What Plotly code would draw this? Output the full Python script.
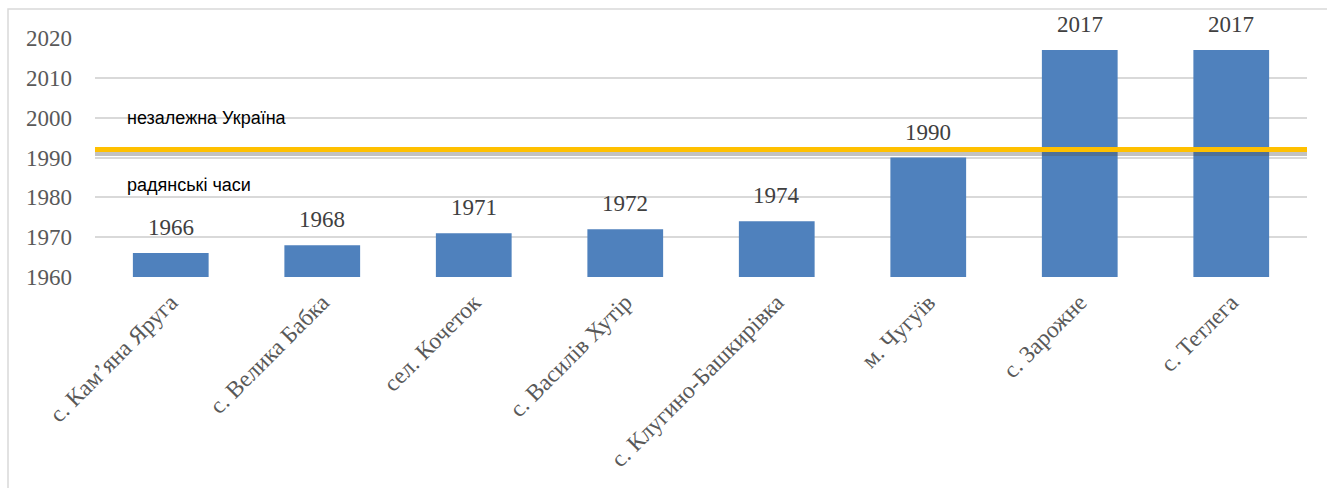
import plotly.graph_objects as go

settlements = ["с. Кам’яна Яруга", "с. Велика Бабка", "сел. Кочеток", "с. Василів Хутір",
               "с. Клугино-Башкирівка", "м. Чугуїв", "с. Зарожне", "с. Тетлега"]
years = [1966, 1968, 1971, 1972, 1974, 1990, 2017, 2017]
y_ticks = [1960, 1970, 1980, 1990, 2000, 2010, 2020]
independence_year = 1992
upper_note = "незалежна Україна"
lower_note = "радянські часи"

W, H = 1327, 488
L, R, T, B = 95, 20, 38, 211
SERIF = "Liberation Serif, Times New Roman, serif"

fig = go.Figure()
fig.add_trace(go.Bar(
    x=settlements, y=[v - 1960 for v in years], base=1960,
    marker=dict(color="#4F81BD", line=dict(width=0)),
    width=0.5, hoverinfo="skip",
))

# value labels above the bars
for name, v in zip(settlements, years):
    fig.add_annotation(x=name, y=v, text=str(v), showarrow=False, xref="x", yref="y",
                       yanchor="bottom", yshift=11,
                       font=dict(family=SERIF, size=23, color="#404040"))

# shadow under the independence line
fig.add_shape(type="line", xref="paper", yref="y", x0=0, x1=1,
              y0=independence_year - 1.0, y1=independence_year - 1.0,
              line=dict(color="rgba(80,80,80,0.35)", width=5), layer="above")
fig.add_shape(type="line", xref="paper", yref="y", x0=0, x1=1,
              y0=independence_year, y1=independence_year,
              line=dict(color="#FFC000", width=5), layer="above")

# chart frame
fig.add_shape(type="rect", xref="paper", yref="paper",
              x0=(8 - L) / (W - L - R), x1=1.05,
              y0=-1.0, y1=(H - B - 9) / (H - T - B),
              line=dict(color="#D9D9D9", width=1.5), layer="below")

for txt, yv in [(upper_note, 1999.9), (lower_note, 1983.1)]:
    fig.add_annotation(text=txt, xref="paper", yref="y", x=(125 - L) / (W - L - R), y=yv,
                       xanchor="left", yanchor="middle", showarrow=False,
                       font=dict(family="Liberation Sans, Arial, sans-serif", size=18, color="#000000"))

fig.update_layout(
    width=W, height=H, margin=dict(l=L, r=R, t=T, b=B),
    paper_bgcolor="white", plot_bgcolor="white", showlegend=False,
)
fig.update_xaxes(tickangle=-45, showgrid=False, showline=False, ticks="",
                 ticklabelstandoff=6,
                 tickfont=dict(family=SERIF, size=23.5, color="#595959"))
fig.update_yaxes(range=[1960, 2020], tickvals=y_ticks, ticktext=[str(t) for t in y_ticks],
                 showgrid=True, gridcolor="#D9D9D9",
                 gridwidth=1.5, zeroline=False, showline=False, ticks="",
                 tickfont=dict(family=SERIF, size=23, color="#595959"),
                 ticklabelstandoff=22)

fig.write_html("out.html")
